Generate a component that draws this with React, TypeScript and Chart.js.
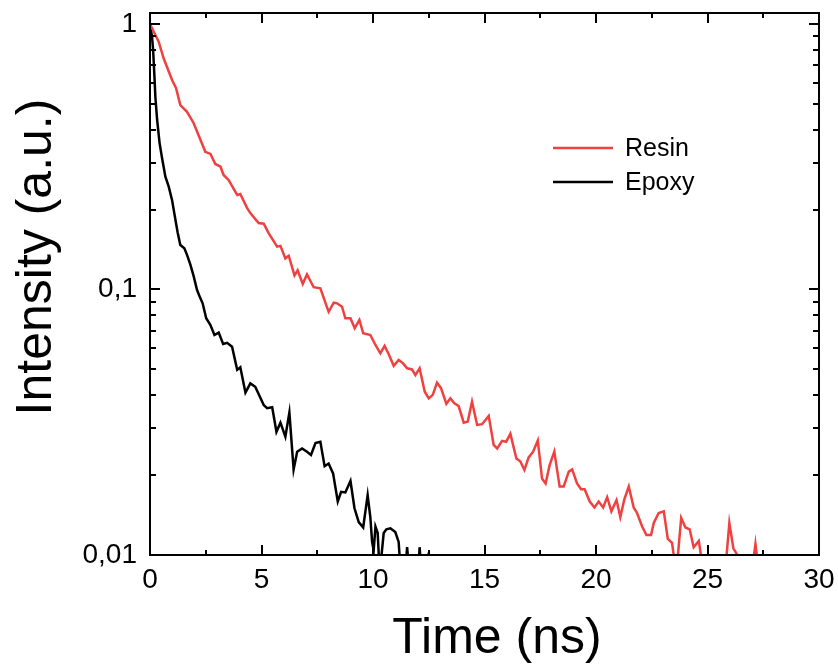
import React, { useEffect, useRef } from 'react';
import { Chart, registerables } from 'chart.js';

Chart.register(...registerables);

// ---- data ----
const resinTime = [
  0, 0.24, 0.39, 0.61, 0.99, 1.17, 1.36, 1.66, 1.96, 2.48,
  2.71, 2.93, 3.16, 3.30, 3.53, 3.91, 4.05, 4.35, 4.50, 4.87,
  5.10, 5.32, 5.70, 5.85, 6.07, 6.22, 6.48, 6.62, 6.85, 7.04,
  7.34, 7.64, 8.01, 8.24, 8.39, 8.61, 8.76, 8.99, 9.18, 9.39,
  9.56, 9.88, 10.11, 10.33, 10.52, 10.70, 10.93, 11.15, 11.35, 11.53,
  11.75, 11.90, 12.09, 12.32, 12.50, 12.68, 12.87, 13.05, 13.29, 13.47,
  13.65, 13.84, 14.07, 14.25, 14.44, 14.67, 14.89, 15.19, 15.41, 15.57,
  15.79, 15.97, 16.16, 16.43, 16.61, 16.79, 16.98, 17.18, 17.39, 17.58,
  17.74, 17.92, 18.13, 18.37, 18.55, 18.78, 18.93, 19.15, 19.33, 19.49,
  19.72, 19.93, 20.12, 20.32, 20.50, 20.69, 20.92, 21.09, 21.27, 21.47,
  21.69, 21.84, 22.07, 22.26, 22.47, 22.59, 22.81, 23.04, 23.22, 23.41,
  23.6, 23.82, 24.01, 24.20, 24.38, 24.61, 24.83, 25.2, 25.5, 25.8,
  25.98, 26.16, 26.4, 26.7, 27.0, 27.15, 27.3, 27.8, 28.4, 29.0,
  29.6, 30,
];
const resinIntensity = [
  1.0, 0.909, 0.858, 0.743, 0.615, 0.573, 0.495, 0.467, 0.423, 0.330,
  0.324, 0.297, 0.290, 0.270, 0.258, 0.227, 0.229, 0.203, 0.194, 0.178,
  0.177, 0.163, 0.145, 0.146, 0.131, 0.134, 0.113, 0.118, 0.105, 0.114,
  0.102, 0.101, 0.0824, 0.0892, 0.0887, 0.0861, 0.0779, 0.0779, 0.0715, 0.0768,
  0.0684, 0.0674, 0.0618, 0.0575, 0.0613, 0.0572, 0.0516, 0.0543, 0.0527, 0.0505,
  0.0500, 0.0476, 0.0505, 0.0412, 0.0389, 0.0401, 0.0446, 0.0425, 0.0371, 0.0389,
  0.0373, 0.0364, 0.0315, 0.0318, 0.0378, 0.0309, 0.0311, 0.0334, 0.0260, 0.0252,
  0.0269, 0.0267, 0.0286, 0.0231, 0.0225, 0.0209, 0.0233, 0.0245, 0.0270, 0.0194,
  0.0186, 0.0218, 0.0245, 0.0181, 0.0181, 0.0206, 0.0210, 0.0186, 0.0177, 0.0177,
  0.0159, 0.0151, 0.0159, 0.0151, 0.0165, 0.0146, 0.0161, 0.0139, 0.0162, 0.0181,
  0.0151, 0.0144, 0.0128, 0.0119, 0.0119, 0.0132, 0.0144, 0.0146, 0.0115, 0.0111,
  0.0085, 0.0138, 0.0127, 0.0125, 0.0107, 0.0113, 0.0085, 0.0072, 0.0078, 0.0088,
  0.0132, 0.0106, 0.0098, 0.0080, 0.0088, 0.0110, 0.0086, 0.0070, 0.0075, 0.0066,
  0.0070, 0.0064,
];
const epoxyTime = [
  0, 0.09, 0.14, 0.20, 0.24, 0.32, 0.43, 0.54, 0.69, 0.84,
  0.99, 1.14, 1.24, 1.36, 1.54, 1.66, 1.81, 1.96, 2.11, 2.26,
  2.36, 2.52, 2.71, 2.89, 3.08, 3.28, 3.46, 3.68, 3.91, 4.05,
  4.28, 4.50, 4.72, 5.10, 5.25, 5.48, 5.67, 5.85, 6.07, 6.25,
  6.44, 6.60, 6.82, 7.04, 7.22, 7.42, 7.64, 7.83, 8.01, 8.21,
  8.42, 8.57, 8.76, 8.99, 9.17, 9.36, 9.56, 9.76, 9.88, 9.96,
  10.03, 10.11, 10.21, 10.30, 10.48, 10.60, 10.78, 11.00, 11.15, 11.26,
  11.40, 11.53, 11.65, 12.0, 12.09, 12.2, 12.4, 12.50, 12.6, 13.0,
  14.0, 15.0,
];
const epoxyIntensity = [
  1.0, 0.896, 0.798, 0.633, 0.532, 0.435, 0.356, 0.313, 0.266, 0.244,
  0.217, 0.183, 0.164, 0.147, 0.143, 0.135, 0.124, 0.112, 0.0995, 0.0926,
  0.0887, 0.0779, 0.0735, 0.0674, 0.0688, 0.0623, 0.0630, 0.0609, 0.0498, 0.0509,
  0.0409, 0.0443, 0.0430, 0.0367, 0.0357, 0.0360, 0.0291, 0.0315, 0.0279, 0.0344,
  0.0210, 0.0245, 0.0252, 0.0245, 0.0238, 0.0264, 0.0267, 0.0216, 0.0221, 0.0203,
  0.0159, 0.0173, 0.0172, 0.0190, 0.0150, 0.0133, 0.0127, 0.0168, 0.0139, 0.0112,
  0.0104, 0.0128, 0.0121, 0.0085, 0.0121, 0.0125, 0.0126, 0.0122, 0.0112, 0.0082,
  0.0078, 0.0107, 0.0080, 0.0078, 0.0107, 0.0080, 0.0079, 0.0102, 0.0080, 0.0070,
  0.0060, 0.0055,
];

const seriesLabels = ['Resin', 'Epoxy'];
const seriesColors = ['#F0403F', '#000000'];
const xMajorTicks = [0, 5, 10, 15, 20, 25, 30];
const xMinorStep = 2.5;
const yMajorTicks = [0.01, 0.1, 1];
const yTickLabels = ['0,01', '0,1', '1'];
const xTitle = 'Time (ns)';
const yTitle = 'Intensity (a.u.)';

const FONT = '"Liberation Sans", Arial, Helvetica, sans-serif';

const framePlugin = {
  id: 'framePlugin',
  afterDatasetsDraw(chart: any) {
    const { ctx, chartArea: a, scales } = chart;
    const x = scales.x;
    const y = scales.y;
    ctx.save();
    ctx.strokeStyle = '#000';
    ctx.lineWidth = 2;
    ctx.beginPath();
    // x ticks (bottom + top, inward)
    const xmin = xMajorTicks[0];
    const xmax = xMajorTicks[xMajorTicks.length - 1];
    for (let v = xmin; v <= xmax + 1e-9; v += xMinorStep) {
      const px = Math.round(x.getPixelForValue(v));
      const major = xMajorTicks.some((m) => Math.abs(m - v) < 1e-9);
      const len = major ? 10 : 5;
      ctx.moveTo(px, a.bottom);
      ctx.lineTo(px, a.bottom - len);
      ctx.moveTo(px, a.top);
      ctx.lineTo(px, a.top + len);
    }
    // y ticks (left + right, inward)
    for (let d = 0; d < yMajorTicks.length; d++) {
      const base = yMajorTicks[d];
      const kmax = d === yMajorTicks.length - 1 ? 1 : 9;
      for (let k = 1; k <= kmax; k++) {
        const v = base * k;
        const py = Math.round(y.getPixelForValue(v));
        const len = k === 1 ? 10 : 6;
        ctx.moveTo(a.left, py);
        ctx.lineTo(a.left + len, py);
        ctx.moveTo(a.right, py);
        ctx.lineTo(a.right - len, py);
      }
    }
    ctx.stroke();
    ctx.strokeRect(a.left, a.top, a.right - a.left, a.bottom - a.top);

    // axis titles
    ctx.fillStyle = '#000';
    ctx.font = `50px ${FONT}`;
    ctx.textAlign = 'center';
    ctx.textBaseline = 'alphabetic';
    ctx.fillText(xTitle, 497, 653);
    ctx.save();
    ctx.translate(51, 257);
    ctx.rotate(-Math.PI / 2);
    ctx.fillText(yTitle, 0, 0);
    ctx.restore();

    // legend
    ctx.font = `25px ${FONT}`;
    ctx.textAlign = 'left';
    ctx.textBaseline = 'middle';
    chart.data.datasets.forEach((ds: any, i: number) => {
      const ly = 148 + i * 34;
      ctx.strokeStyle = ds.borderColor;
      ctx.lineWidth = 2.5;
      ctx.beginPath();
      ctx.moveTo(553, ly);
      ctx.lineTo(613, ly);
      ctx.stroke();
      ctx.fillStyle = '#000';
      ctx.fillText(ds.label, 625, ly + 1);
    });
    ctx.restore();
  },
};

export default function App() {
  const canvasRef = useRef<HTMLCanvasElement | null>(null);

  useEffect(() => {
    document.body.style.margin = '0';
    const canvas = canvasRef.current;
    if (!canvas) return;
    const makeData = (ts: number[], vs: number[]) => ts.map((t, i) => ({ x: t, y: vs[i] }));
    const chart = new Chart(canvas, {
      type: 'line',
      data: {
        datasets: [
          {
            label: seriesLabels[0],
            data: makeData(resinTime, resinIntensity),
            borderColor: seriesColors[0],
            borderWidth: 2.5,
            pointRadius: 0,
            tension: 0,
            clip: 0,
          },
          {
            label: seriesLabels[1],
            data: makeData(epoxyTime, epoxyIntensity),
            borderColor: seriesColors[1],
            borderWidth: 2.5,
            pointRadius: 0,
            tension: 0,
            clip: 0,
          },
        ],
      } as any,
      options: {
        animation: false,
        responsive: false,
        maintainAspectRatio: false,
        events: [],
        layout: { padding: { left: 0, right: 19, top: 13, bottom: 0 } },
        plugins: { legend: { display: false }, tooltip: { enabled: false } },
        scales: {
          x: {
            type: 'linear',
            min: xMajorTicks[0],
            max: xMajorTicks[xMajorTicks.length - 1],
            grid: { display: false, drawTicks: false },
            border: { display: false },
            ticks: {
              stepSize: 5,
              padding: 8,
              color: '#000',
              font: { family: FONT, size: 28 },
              maxRotation: 0,
            },
            afterFit: (s: any) => {
              s.height = 109;
              s.paddingLeft = 0;
              s.paddingRight = 0;
            },
          },
          y: {
            type: 'logarithmic',
            min: yMajorTicks[0],
            max: 1.1,
            grid: { display: false, drawTicks: false },
            border: { display: false },
            afterBuildTicks: (s: any) => {
              s.ticks = yMajorTicks.map((v) => ({ value: v }));
            },
            ticks: {
              autoSkip: false,
              padding: 13,
              color: '#000',
              font: { family: FONT, size: 28 },
              callback: (v: any) => {
                const idx = yMajorTicks.findIndex((m) => Math.abs(m - Number(v)) < 1e-12);
                return idx >= 0 ? yTickLabels[idx] : '';
              },
            },
            afterFit: (s: any) => {
              s.width = 150;
              s.paddingTop = 0;
              s.paddingBottom = 0;
            },
          },
        },
      } as any,
      plugins: [framePlugin],
    });
    return () => chart.destroy();
  }, []);

  return (
    <div style={{ width: 838, height: 664, background: '#fff' }}>
      <canvas ref={canvasRef} width={838} height={664} style={{ display: 'block' }} />
    </div>
  );
}
